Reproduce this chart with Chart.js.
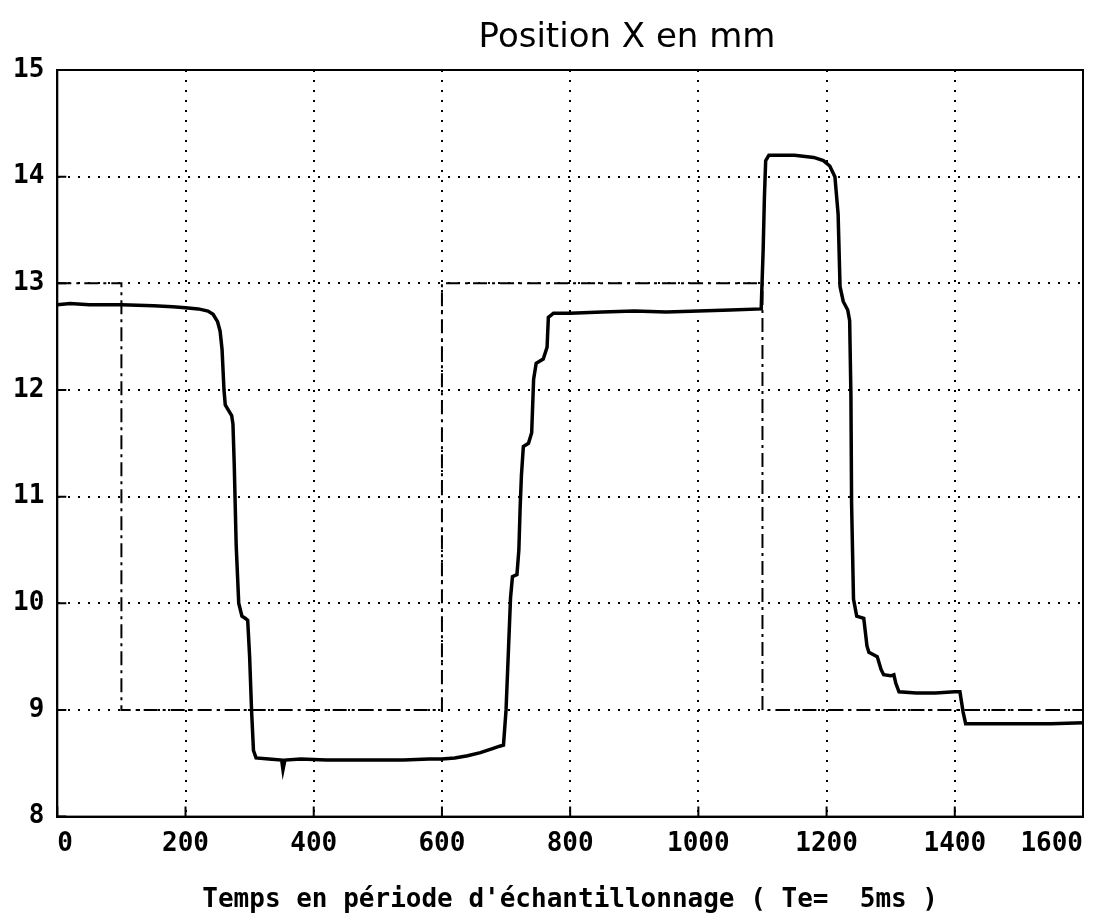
<!DOCTYPE html>
<html>
<head>
<meta charset="utf-8">
<script src="https://cdn.jsdelivr.net/npm/chart.js@4/dist/chart.umd.min.js"></script>
<style>
html,body{margin:0;padding:0;background:#fff;}
#wrap{width:1111px;height:916px;position:relative;}
</style>
</head>
<body>
<div id="wrap"><canvas id="c" width="1111" height="916"></canvas></div>
<script>
// ---- data ----
const chartTitle = "Position X en mm";
const xAxisTitle = "Temps en période d'échantillonnage ( Te=  5ms )";
const xTicks = [0, 200, 400, 600, 800, 1000, 1200, 1400, 1600];
const yTicks = [8, 9, 10, 11, 12, 13, 14, 15];

const measuredT = [0,20,50,100,150,180,200,220,235,243,250,254,257,260,262,268,272,274,276,279,283,288,293,297,300,303,306,310,330,350,352,355,380,420,460,500,540,580,600,620,640,660,680,690,696,700,704,707,710,717,720,722,724,727,735,740,743,747,758,764,766,774,800,850,900,950,1000,1050,1098,1101,1103,1105,1110,1150,1180,1195,1205,1213,1218,1221,1226,1233,1236,1238,1239,1242,1247,1258,1263,1266,1279,1285,1289,1300,1305,1308,1313,1340,1370,1400,1408,1413,1417,1450,1500,1550,1600];
const measuredX = [12.80,12.81,12.80,12.80,12.79,12.78,12.77,12.76,12.74,12.71,12.64,12.55,12.38,12.0,11.86,11.80,11.76,11.68,11.3,10.55,10.0,9.88,9.86,9.84,9.5,9.0,8.62,8.55,8.54,8.53,8.44,8.53,8.54,8.53,8.53,8.53,8.53,8.54,8.54,8.55,8.57,8.60,8.64,8.66,8.67,9.0,9.6,10.05,10.25,10.27,10.5,10.9,11.2,11.47,11.5,11.6,12.1,12.25,12.29,12.4,12.68,12.72,12.72,12.73,12.74,12.73,12.74,12.75,12.76,13.3,13.8,14.15,14.2,14.2,14.18,14.15,14.1,14.0,13.65,12.97,12.83,12.75,12.65,11.94,10.94,10.04,9.88,9.86,9.6,9.54,9.5,9.38,9.33,9.32,9.33,9.25,9.17,9.16,9.16,9.17,9.17,8.98,8.87,8.87,8.87,8.87,8.88];

const setpointT = [0, 100, 100, 600, 600, 1100, 1100, 1600];
const setpointX = [13, 13, 9, 9, 13, 13, 9, 9];

const tickFont = {family: "'DejaVu Sans Mono', monospace", size: 26, weight: 'bold'};
const axisTitleFont = {family: "'DejaVu Sans Mono', monospace", size: 26, weight: 'bold'};

const framePlugin = {
  id: 'frame',
  afterDraw(chart) {
    const {ctx, chartArea: a, scales: {x, y}} = chart;
    ctx.save();
    ctx.strokeStyle = '#000';
    ctx.lineWidth = 2;
    ctx.setLineDash([]);
    ctx.strokeRect(a.left, a.top, a.right - a.left, a.bottom - a.top);
    ctx.beginPath();
    xTicks.forEach(v => {
      const px = x.getPixelForValue(v);
      ctx.moveTo(px, a.bottom); ctx.lineTo(px, a.bottom - 10);
    });
    yTicks.forEach(v => {
      const py = y.getPixelForValue(v);
      ctx.moveTo(a.left, py); ctx.lineTo(a.left + 9, py);
    });
    ctx.stroke();
    ctx.fillStyle = '#000';
    ctx.font = "34px 'DejaVu Sans'";
    ctx.textAlign = 'center';
    ctx.textBaseline = 'middle';
    ctx.fillText(chartTitle, 627, 38);
    ctx.restore();
  }
};

new Chart(document.getElementById('c'), {
  type: 'line',
  data: {
    datasets: [
      {
        label: 'mesure',
        data: measuredT.map((t, i) => ({x: t, y: measuredX[i]})),
        borderColor: '#000',
        borderWidth: 3.5,
        pointRadius: 0,
        tension: 0,
        fill: false
      },
      {
        label: 'consigne',
        data: setpointT.map((t, i) => ({x: t, y: setpointX[i]})),
        borderColor: '#000',
        borderWidth: 2,
        borderDash: [14, 5, 3, 5],
        pointRadius: 0,
        tension: 0,
        fill: false
      }
    ]
  },
  options: {
    responsive: false,
    animation: false,
    layout: {padding: {top: 70, left: 0, right: 28, bottom: 0}},
    plugins: {legend: {display: false}, tooltip: {enabled: false}, title: {display: false}},
    scales: {
      x: {
        type: 'linear', min: 0, max: 1600,
        afterBuildTicks: s => { s.ticks = xTicks.map(v => ({value: v})); },
        ticks: {font: tickFont, color: '#000', padding: 12, maxRotation: 0, align: 'inner', callback: v => String(v)},
        grid: {color: '#000', lineWidth: 2, drawTicks: false},
        border: {display: true, color: '#000', width: 2, dash: [2, 8]},
        title: {display: true, text: xAxisTitle, font: axisTitleFont, color: '#000', padding: {top: 13, bottom: 0}}
      },
      y: {
        type: 'linear', min: 8, max: 15,
        afterBuildTicks: s => { s.ticks = yTicks.map(v => ({value: v})); },
        ticks: {font: tickFont, color: '#000', padding: 13, callback: v => String(v)},
        grid: {color: '#000', lineWidth: 2, drawTicks: false},
        border: {display: true, color: '#000', width: 2, dash: [2, 8]}
      }
    }
  },
  plugins: [framePlugin]
});
</script>
</body>
</html>
